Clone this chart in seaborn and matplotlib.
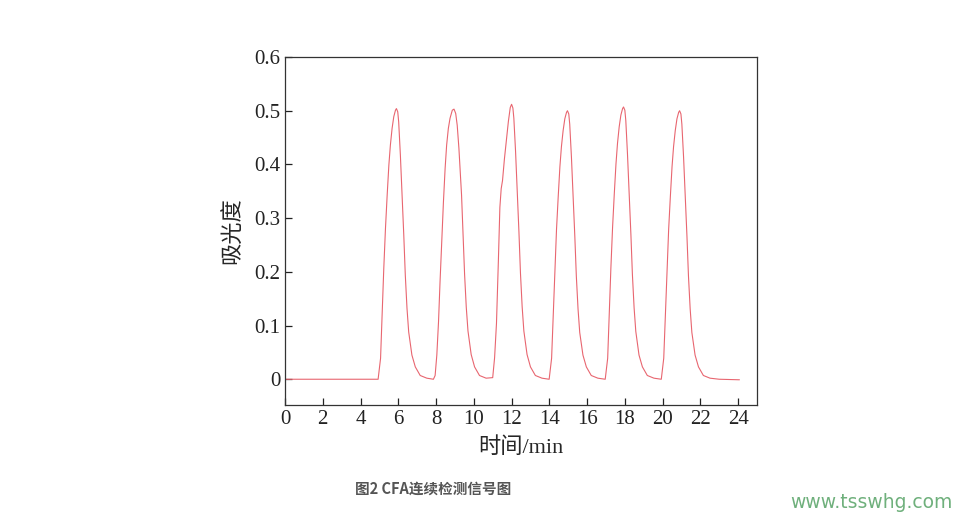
import pandas as pd
import matplotlib.pyplot as plt
import seaborn as sns

# absorbance trace (time in min), one row per peak
time_min = (
    [0.0, 2.0, 4.0]
    + [4.93, 5.06, 5.15, 5.23, 5.32, 5.41, 5.50, 5.58, 5.67, 5.76, 5.85, 5.90, 5.97,
       6.02, 6.11, 6.20, 6.29, 6.37, 6.46, 6.55, 6.72, 6.90, 7.16, 7.51, 7.86]
    + [7.95, 8.04, 8.13, 8.21, 8.30, 8.39, 8.48, 8.56, 8.65, 8.74, 8.86, 8.95, 9.04,
       9.12, 9.21, 9.35, 9.43, 9.51, 9.60, 9.69, 9.86, 10.04, 10.30, 10.65]
    + [11.0, 11.1, 11.2, 11.3, 11.38, 11.45, 11.52, 11.62, 11.73, 11.83, 11.93, 12.0,
       12.07, 12.12, 12.21, 12.30, 12.39, 12.47, 12.56, 12.65, 12.82, 13.0, 13.26, 13.61]
    + [13.99, 14.12, 14.21, 14.29, 14.38, 14.47, 14.56, 14.64, 14.73, 14.82, 14.91, 14.96,
       15.03, 15.08, 15.17, 15.26, 15.35, 15.43, 15.52, 15.61, 15.78, 15.96, 16.22, 16.57]
    + [16.96, 17.09, 17.18, 17.26, 17.35, 17.44, 17.53, 17.61, 17.70, 17.79, 17.88, 17.93,
       18.00, 18.05, 18.14, 18.23, 18.32, 18.40, 18.49, 18.58, 18.75, 18.93, 19.19, 19.54]
    + [19.93, 20.06, 20.15, 20.23, 20.32, 20.41, 20.50, 20.58, 20.67, 20.76, 20.85, 20.90,
       20.97, 21.02, 21.11, 21.20, 21.29, 21.37, 21.46, 21.55, 21.72, 21.90, 22.16, 22.51,
       23.0, 24.07]
)
absorbance = (
    [0.0, 0.0, 0.0]
    + [0.0, 0.039, 0.125, 0.206, 0.281, 0.343, 0.399, 0.436, 0.467, 0.489, 0.501, 0.504, 0.498,
       0.479, 0.417, 0.343, 0.268, 0.194, 0.132, 0.088, 0.045, 0.023, 0.007, 0.002, 0.0]
    + [0.007, 0.045, 0.107, 0.181, 0.256, 0.33, 0.393, 0.436, 0.467, 0.486, 0.501, 0.503, 0.495,
       0.473, 0.43, 0.343, 0.27, 0.196, 0.134, 0.09, 0.046, 0.023, 0.007, 0.002]
    + [0.003, 0.04, 0.104, 0.22, 0.32, 0.355, 0.37, 0.41, 0.446, 0.48, 0.506, 0.512,
       0.505, 0.486, 0.425, 0.35, 0.274, 0.198, 0.135, 0.09, 0.046, 0.023, 0.007, 0.002]
    + [0.0, 0.039, 0.124, 0.204, 0.279, 0.34, 0.396, 0.433, 0.463, 0.485, 0.497, 0.50,
       0.494, 0.475, 0.414, 0.34, 0.266, 0.192, 0.131, 0.087, 0.045, 0.023, 0.007, 0.002]
    + [0.0, 0.039, 0.126, 0.207, 0.283, 0.345, 0.401, 0.439, 0.47, 0.492, 0.504, 0.507,
       0.501, 0.482, 0.419, 0.345, 0.27, 0.195, 0.133, 0.089, 0.045, 0.023, 0.007, 0.002]
    + [0.0, 0.039, 0.124, 0.204, 0.279, 0.34, 0.396, 0.433, 0.463, 0.485, 0.497, 0.50,
       0.494, 0.475, 0.414, 0.34, 0.266, 0.192, 0.131, 0.087, 0.045, 0.023, 0.007, 0.002,
       0.0, -0.001]
)

x_ticks = list(range(0, 25, 2))
y_ticks = [0, 0.1, 0.2, 0.3, 0.4, 0.5, 0.6]
y_tick_labels = ["0", "0.1", "0.2", "0.3", "0.4", "0.5", "0.6"]

df = pd.DataFrame({"time": time_min, "abs": absorbance})

sns.set_style("ticks")
plt.rcParams['font.family'] = ['Liberation Serif', 'Noto Sans CJK SC']
plt.rcParams['xtick.direction'] = 'in'
plt.rcParams['ytick.direction'] = 'in'

fig = plt.figure(figsize=(9.62, 5.18), dpi=100)
ax = fig.add_axes([0.2963, 0.2181, 0.4906, 0.6718])

sns.lineplot(data=df, x="time", y="abs", ax=ax, color='#e86670', linewidth=0.8)

ax.set_xlim(0, 25)
ax.set_ylim(-0.048, 0.6)
ax.set_xticks(x_ticks)
ax.set_yticks(y_ticks)
ax.set_yticklabels(y_tick_labels)
ax.tick_params(labelsize=15, length=5, width=0.9, colors='#222222',
               top=False, right=False)
for s in ax.spines.values():
    s.set_linewidth(0.9)
    s.set_color('#333333')

ax.set_xlabel("时间/min", fontsize=16, family=['Liberation Serif', 'Noto Sans CJK SC'],
              labelpad=6)
ax.set_ylabel("吸光度", fontsize=16, family=['Noto Sans CJK SC'], labelpad=8)

fig.text(355 / 962, 1 - 489 / 518, "图2 CFA连续检测信号图", fontsize=10.5,
         fontweight='bold', color='#555555', family=['Noto Sans CJK SC'],
         va='center', ha='left')
fig.text(790 / 962, 1 - 503 / 518, "www.tsswhg.com", fontsize=13.5,
         color='#6fb07c', family=['DejaVu Sans'], va='center', ha='left')

fig.savefig("out.png", dpi=100)
plt.close()
